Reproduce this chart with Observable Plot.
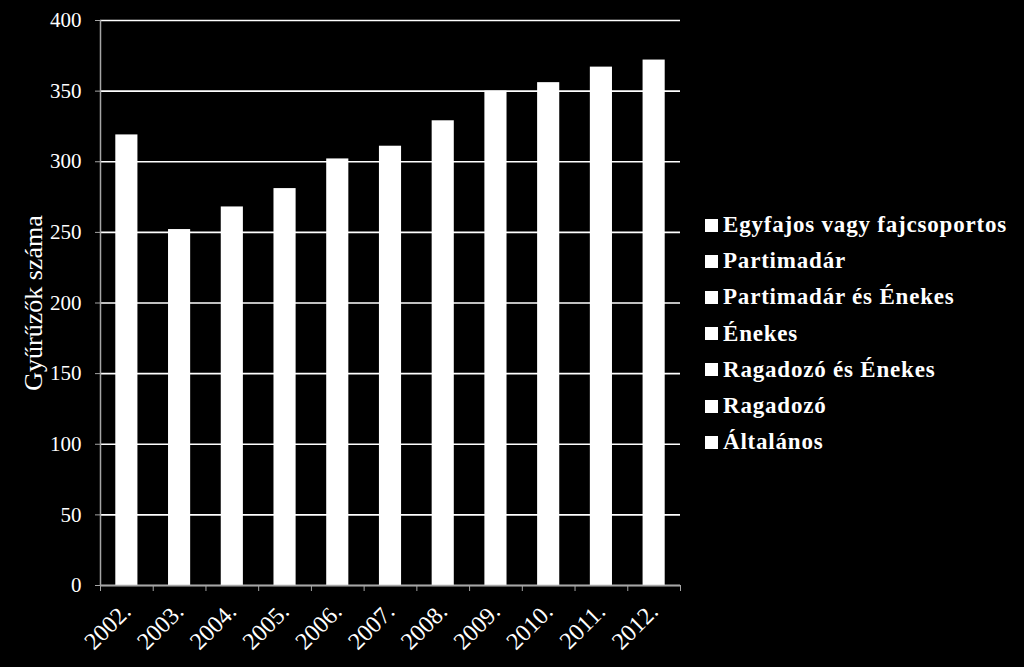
<!DOCTYPE html>
<html>
<head>
<meta charset="utf-8">
<script src="https://cdn.jsdelivr.net/npm/d3@7"></script>
<script src="https://cdn.jsdelivr.net/npm/@observablehq/plot@0.6"></script>
<style>
  html, body { margin: 0; padding: 0; background: #000; }
  #wrap { position: relative; width: 1024px; height: 667px; background: #000; overflow: hidden; }
  #legend { position: absolute; left: 705px; top: 207px; font-family: "Liberation Serif", "Times New Roman", serif; font-size: 23px; letter-spacing: 0.8px; color: #fff; font-weight: bold; }
  #legend .item { display: flex; align-items: center; height: 36.2px; white-space: nowrap; }
  #legend .sw { width: 13px; height: 13px; background: #fff; margin-right: 5px; flex: none; }
</style>
</head>
<body>
<div id="wrap"></div>
<script>
const years = [2002, 2003, 2004, 2005, 2006, 2007, 2008, 2009, 2010, 2011, 2012];
const totals = [319, 252, 268, 281, 302, 311, 329, 350, 356, 367, 372];
const seriesNames = [
  "Egyfajos vagy fajcsoportos",
  "Partimadár",
  "Partimadár és Énekes",
  "Énekes",
  "Ragadozó és Énekes",
  "Ragadozó",
  "Általános"
];
const yTicks = [0, 50, 100, 150, 200, 250, 300, 350, 400];

const data = years.map((y, i) => ({year: y, value: totals[i]}));
const fontFamily = '"Liberation Serif", "Times New Roman", serif';

const chart = Plot.plot({
  width: 1024,
  height: 667,
  marginLeft: 100,
  marginRight: 344,
  marginTop: 20,
  marginBottom: 82,
  style: {background: "#000", color: "#fff", fontFamily, fontSize: "20px", overflow: "visible"},
  x: {type: "linear", domain: [years[0], years[years.length - 1] + 1]},
  y: {domain: [0, 400]},
  marks: [
    Plot.gridY(yTicks, {stroke: "#fff", strokeOpacity: 1, strokeWidth: 1.6}),
    Plot.rectY(data, {x1: d => d.year, x2: d => d.year + 1, y: "value", fill: "#fff", insetLeft: 15.3, insetRight: 15.3}),
    Plot.ruleY([0], {stroke: "#a6a6a6", strokeWidth: 1.5}),
    Plot.ruleX([years[0]], {stroke: "#a6a6a6", strokeWidth: 1.5}),
    Plot.axisY({ticks: yTicks, tickSize: 5, tickPadding: 14, stroke: "#a6a6a6", fill: "#fff", fontSize: 21, label: null}),
    Plot.text(["Gyűrűzők száma"], {frameAnchor: "left", textAnchor: "middle", dx: -67, rotate: -90, fill: "#fff", fontSize: 26, fontFamily}),
    Plot.axisX({ticks: [...years, years[years.length - 1] + 1], tickSize: 6, stroke: "#a6a6a6", tickFormat: () => "", label: null}),
    Plot.axisX({ticks: years.map(y => y + 0.5), tickSize: 0, tickPadding: 22, tickRotate: -45, tickFormat: d => `${d - 0.5}.`, fill: "#fff", fontSize: 24, label: null})
  ]
});

const wrap = document.getElementById("wrap");
wrap.appendChild(chart);

const legend = document.createElement("div");
legend.id = "legend";
for (const name of seriesNames) {
  const item = document.createElement("div");
  item.className = "item";
  const sw = document.createElement("span");
  sw.className = "sw";
  const label = document.createElement("span");
  label.textContent = name;
  item.appendChild(sw);
  item.appendChild(label);
  legend.appendChild(item);
}
wrap.appendChild(legend);
</script>
</body>
</html>
